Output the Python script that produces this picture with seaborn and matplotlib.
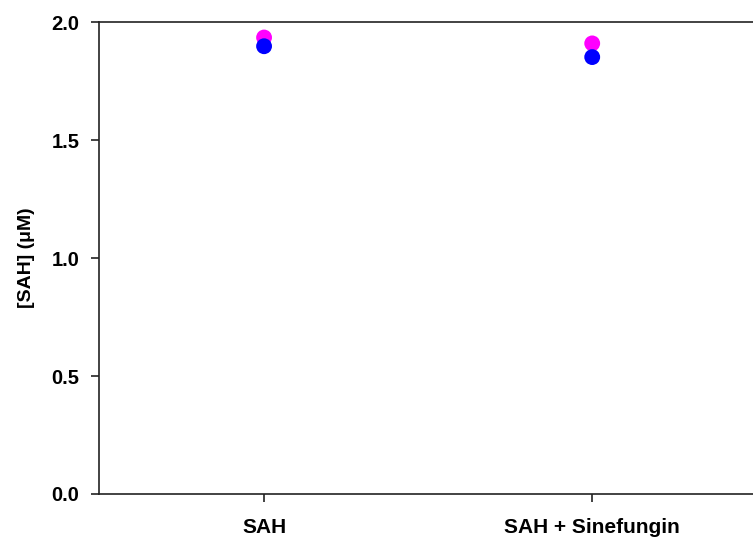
import matplotlib
matplotlib.use("Agg")
import matplotlib.pyplot as plt
import seaborn as sns
import pandas as pd

# Measured SAH concentrations (µM), two replicates per condition
conditions = ["SAH", "SAH + Sinefungin"]
replicate_a = [1.935, 1.910]   # magenta
replicate_b = [1.898, 1.852]   # blue
y_ticks = [0.0, 0.5, 1.0, 1.5, 2.0]

sns.set_style("white")
plt.rcParams["font.family"] = ["Liberation Sans", "DejaVu Sans"]
plt.rcParams["text.color"] = "black"
plt.rcParams["axes.labelcolor"] = "black"
plt.rcParams["xtick.color"] = "black"
plt.rcParams["ytick.color"] = "black"

df = pd.DataFrame({
    "condition": conditions * 2,
    "pos": list(range(len(conditions))) * 2,
    "conc": replicate_a + replicate_b,
    "rep": ["a"] * len(conditions) + ["b"] * len(conditions),
})

fig = plt.figure(figsize=(7.53, 5.38), dpi=100)
ax = fig.add_axes([0.1315, 0.0818, 0.8685, 0.877])

sns.scatterplot(data=df, x="pos", y="conc", hue="rep",
                palette={"a": "#FF00FF", "b": "#0000FF"},
                s=130, linewidth=0, legend=False, ax=ax, zorder=3)

ax.set_xlim(-0.503, 1.49)
ax.set_ylim(0, 2.0)
ax.set_xticks(range(len(conditions)))
ax.set_xticklabels(conditions, fontsize=15, fontweight="bold")
ax.set_yticks(y_ticks)
ax.set_yticklabels([f"{v:.1f}" for v in y_ticks], fontsize=14.5, fontweight="bold")
ax.set_xlabel("")
ax.set_ylabel("[SAH] (\u03bcM)", fontsize=14, fontweight="bold", labelpad=12)

for side in ["left", "bottom", "top"]:
    ax.spines[side].set_visible(True)
    ax.spines[side].set_linewidth(1.2)
    ax.spines[side].set_color("#222222")
ax.spines["right"].set_visible(False)

ax.tick_params(axis="both", direction="out", length=6, width=1.2,
               color="#222222", bottom=True, left=True)
ax.tick_params(axis="y", pad=8)
ax.tick_params(axis="x", pad=11)

fig.savefig("out.png", dpi=100)
